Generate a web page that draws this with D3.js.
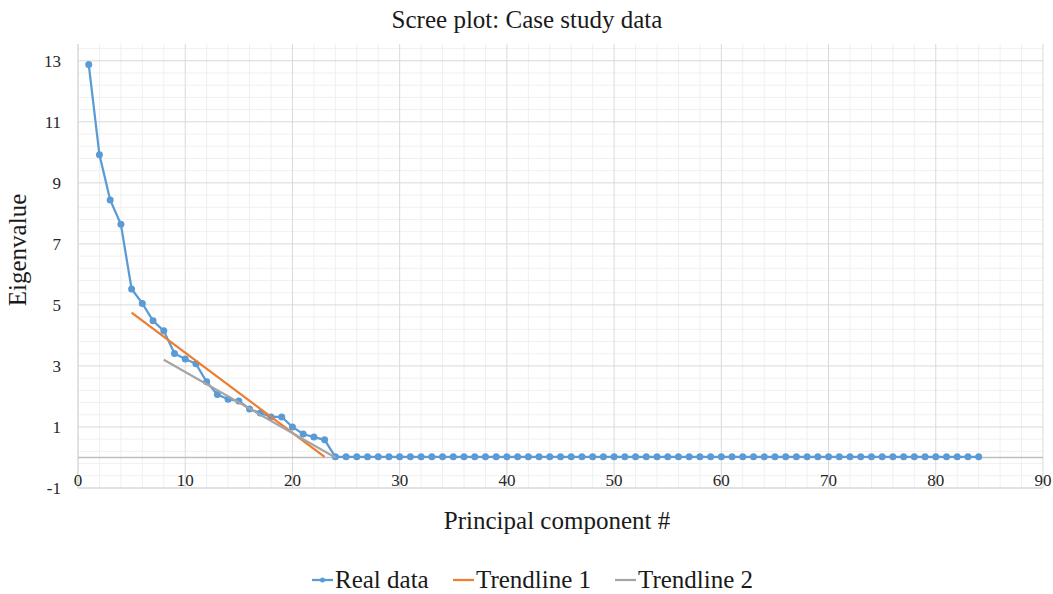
<!DOCTYPE html>
<html>
<head>
<meta charset="utf-8">
<script src="https://cdn.jsdelivr.net/npm/d3@7"></script>
<style>
body { margin: 0; background: #fff; }
</style>
</head>
<body>
<svg id="chart" width="1053" height="594"></svg>
<script>
// eigenvalues, component 1..84
const components = d3.range(1, 85);
const eigenvalues = [
	12.88, 9.92, 8.44, 7.64, 5.52, 5.05, 4.48, 4.15, 3.41, 3.23,
	3.07, 2.48, 2.06, 1.91, 1.85, 1.59, 1.46, 1.33, 1.33, 1.0,
	0.77, 0.67, 0.58, 0.02
].concat(new Array(60).fill(0.02));
// trendlines: start and end points
const trend1X = [5, 23];
const trend1Y = [4.75, 0.02];
const trend2X = [8, 24];
const trend2Y = [3.2, 0.0];
const xTicks = [0, 10, 20, 30, 40, 50, 60, 70, 80, 90];
const yTicks = [-1, 1, 3, 5, 7, 9, 11, 13];

const FONT = "Liberation Serif";
const svg = d3.select("#chart");
const area = { left: 78, right: 1043, top: 44, bottom: 488 };

const scX = d3.scaleLinear().domain([0, 90]).range([area.left, area.right]);
const scY = d3.scaleLinear().domain([-1, 13.55]).range([area.bottom, area.top]);

// minor grid
const grid = svg.append("g");
grid.selectAll(".vminor")
	.data(d3.range(2, 90, 2).filter(v => v % 10 != 0))
	.enter().append("line")
	.attr("x1", d => scX(d)).attr("x2", d => scX(d))
	.attr("y1", area.top).attr("y2", area.bottom)
	.style("stroke", "#f0f0f0").style("stroke-width", 1);
grid.selectAll(".hminor")
	.data(d3.range(0, 37).map(i => -1 + i * 0.4).filter(v => Math.abs(((v + 1) / 2) - Math.round((v + 1) / 2)) > 0.01))
	.enter().append("line")
	.attr("x1", area.left).attr("x2", area.right)
	.attr("y1", d => scY(d)).attr("y2", d => scY(d))
	.style("stroke", "#f0f0f0").style("stroke-width", 1);
// major grid
grid.selectAll(".vmajor")
	.data(xTicks.slice(1))
	.enter().append("line")
	.attr("x1", d => scX(d)).attr("x2", d => scX(d))
	.attr("y1", area.top).attr("y2", area.bottom)
	.style("stroke", "#d9d9d9").style("stroke-width", 1);
grid.selectAll(".hmajor")
	.data(yTicks.slice(1))
	.enter().append("line")
	.attr("x1", area.left).attr("x2", area.right)
	.attr("y1", d => scY(d)).attr("y2", d => scY(d))
	.style("stroke", "#d9d9d9").style("stroke-width", 1);

// axis lines
svg.append("line")
	.attr("x1", area.left).attr("x2", area.left)
	.attr("y1", area.top).attr("y2", area.bottom)
	.style("stroke", "#d9d9d9").style("stroke-width", 1.5);
svg.append("line")
	.attr("x1", area.left).attr("x2", area.right)
	.attr("y1", area.bottom).attr("y2", area.bottom)
	.style("stroke", "#d9d9d9").style("stroke-width", 1.5);
svg.append("line")
	.attr("x1", area.left).attr("x2", area.right)
	.attr("y1", scY(0)).attr("y2", scY(0))
	.style("stroke", "#bfbfbf").style("stroke-width", 1.5);

// tick labels
svg.selectAll(".xlab")
	.data(xTicks)
	.enter().append("text")
	.attr("x", d => scX(d))
	.attr("y", 486)
	.attr("text-anchor", "middle")
	.attr("font-family", FONT)
	.attr("font-size", 17)
	.style("fill", "#262626")
	.text(d => d);
svg.selectAll(".ylab")
	.data(yTicks)
	.enter().append("text")
	.attr("x", 61)
	.attr("y", d => scY(d) + 6)
	.attr("text-anchor", "end")
	.attr("font-family", FONT)
	.attr("font-size", 17)
	.style("fill", "#262626")
	.text(d => d);

// titles
svg.append("text")
	.attr("x", 527).attr("y", 28)
	.attr("text-anchor", "middle")
	.attr("font-family", FONT).attr("font-size", 25)
	.style("fill", "#1a1a1a")
	.text("Scree plot: Case study data");
svg.append("text")
	.attr("transform", "translate(26,250) rotate(-90)")
	.attr("text-anchor", "middle")
	.attr("font-family", FONT).attr("font-size", 25)
	.style("fill", "#1a1a1a")
	.text("Eigenvalue");
svg.append("text")
	.attr("x", 557).attr("y", 529)
	.attr("text-anchor", "middle")
	.attr("font-family", FONT).attr("font-size", 25)
	.style("fill", "#1a1a1a")
	.text("Principal component #");

// real data
const line = d3.line().x(d => scX(d[0])).y(d => scY(d[1]));
const realData = components.map((c, i) => [c, eigenvalues[i]]);
svg.append("path")
	.datum(realData)
	.attr("d", line)
	.style("fill", "none")
	.style("stroke", "#5b9bd5")
	.style("stroke-width", 2.25);
svg.selectAll(".dot")
	.data(realData)
	.enter().append("circle")
	.attr("r", 3.5)
	.attr("cx", d => scX(d[0]))
	.attr("cy", d => scY(d[1]))
	.style("fill", "#5b9bd5");

// trendlines
svg.append("path")
	.datum(trend1X.map((x, i) => [x, trend1Y[i]]))
	.attr("d", line)
	.style("fill", "none").style("stroke", "#ed7d31").style("stroke-width", 2.25);
svg.append("path")
	.datum(trend2X.map((x, i) => [x, trend2Y[i]]))
	.attr("d", line)
	.style("fill", "none").style("stroke", "#a5a5a5").style("stroke-width", 2.25);

// legend
const legendItems = [
	{ name: "Real data", color: "#5b9bd5", x: 312, dot: true },
	{ name: "Trendline 1", color: "#ed7d31", x: 453, dot: false },
	{ name: "Trendline 2", color: "#a5a5a5", x: 615, dot: false }
];
const leg = svg.append("g");
legendItems.forEach(it => {
	leg.append("line")
		.attr("x1", it.x).attr("x2", it.x + 21)
		.attr("y1", 580).attr("y2", 580)
		.style("stroke", it.color).style("stroke-width", 2.25);
	if (it.dot) {
		leg.append("circle")
			.attr("cx", it.x + 10.5).attr("cy", 580).attr("r", 2.5)
			.style("fill", it.color);
	}
	leg.append("text")
		.attr("x", it.x + 23).attr("y", 588)
		.attr("font-family", FONT).attr("font-size", 25)
		.style("fill", "#1a1a1a")
		.text(it.name);
});
</script>
</body>
</html>
